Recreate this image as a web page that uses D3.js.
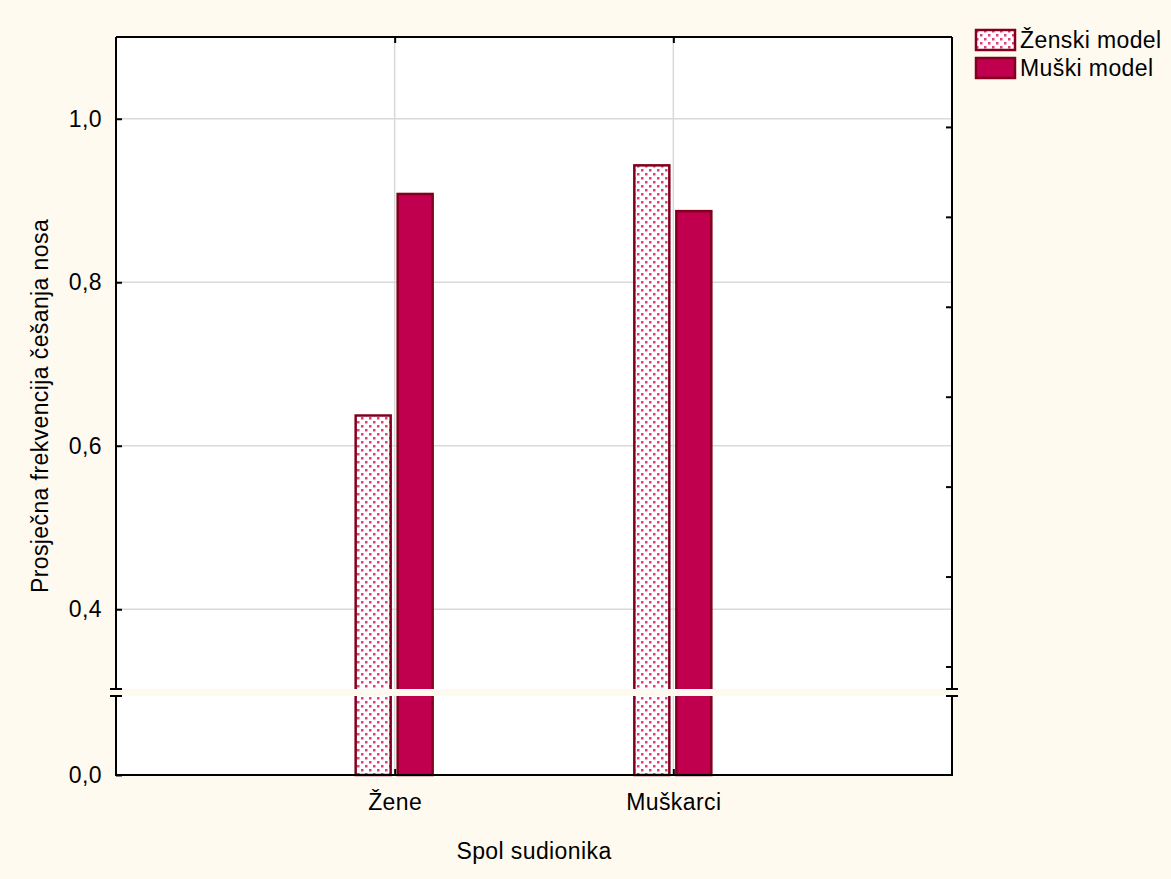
<!DOCTYPE html>
<html>
<head>
<meta charset="utf-8">
<script src="https://cdn.jsdelivr.net/npm/d3@7"></script>
<style>
  html, body { margin: 0; padding: 0; background: #fffaf0; }
  svg { display: block; font-family: "Liberation Sans", Arial, sans-serif; }
</style>
</head>
<body>
<svg id="chart" width="1171" height="879"></svg>
<script>
// Chart data
const categories = ['Žene', 'Muškarci'];
const seriesNames = ['Ženski model', 'Muški model'];
const zenskiModel = [0.637, 0.943];
const muskiModel = [0.908, 0.887];
const yTickValues = [0.0, 0.4, 0.6, 0.8, 1.0];
const rightTickValues = [0.33, 0.44, 0.55, 0.66, 0.77, 0.88, 0.99];

const svg = d3.select('#chart');
const W = 1171, H = 879;
const plot = { left: 116, right: 952, top: 37, bottom: 775 };
const breakTop = 689, breakBottom = 696;

const bg = '#fffaf0';
const barFill = '#c0004e';
const barStroke = '#82001e';
const dotColor = '#de3f7e';
const fontSize = 23;
const letterSp = 0.4;

svg.append('rect').attr('width', W).attr('height', H).attr('fill', bg);

// Pattern for female model bars
const defs = svg.append('defs');
const pat = defs.append('pattern')
  .attr('id', 'dots')
  .attr('patternUnits', 'userSpaceOnUse')
  .attr('width', 8).attr('height', 8);
pat.append('rect').attr('width', 8).attr('height', 8).attr('fill', '#fff');
pat.append('rect').attr('x', 1).attr('y', 1).attr('width', 2.5).attr('height', 2.5).attr('fill', dotColor);
pat.append('rect').attr('x', 5).attr('y', 5).attr('width', 2.5).attr('height', 2.5).attr('fill', dotColor);

// Scales (piecewise y with a break between 0 and 0.3)
const x = d3.scalePoint()
  .domain(categories)
  .range([plot.left, plot.right])
  .padding(1);

const y = d3.scaleLinear()
  .domain([0, 0.3, 1.1])
  .range([plot.bottom, 691, plot.top]);

// Plot background
svg.append('rect')
  .attr('x', plot.left).attr('y', plot.top)
  .attr('width', plot.right - plot.left).attr('height', plot.bottom - plot.top)
  .attr('fill', '#fff');

// Gridlines
const grid = svg.append('g').attr('stroke', '#d9d9d9').attr('stroke-width', 1.5);
grid.selectAll('line.h')
  .data([0.4, 0.6, 0.8, 1.0])
  .enter().append('line')
  .attr('x1', plot.left).attr('x2', plot.right)
  .attr('y1', d => y(d)).attr('y2', d => y(d));
grid.selectAll('line.v')
  .data(categories)
  .enter().append('line')
  .attr('x1', d => x(d)).attr('x2', d => x(d))
  .attr('y1', plot.top).attr('y2', plot.bottom);

// Bars
const barW = 35;
const bars = svg.append('g');
bars.selectAll('rect.z')
  .data(zenskiModel)
  .enter().append('rect')
  .attr('x', (d, i) => x(categories[i]) - 39)
  .attr('y', d => y(d))
  .attr('width', barW)
  .attr('height', d => plot.bottom - y(d))
  .attr('fill', 'url(#dots)')
  .attr('stroke', barStroke)
  .attr('stroke-width', 2.5);
bars.selectAll('rect.m')
  .data(muskiModel)
  .enter().append('rect')
  .attr('x', (d, i) => x(categories[i]) + 3)
  .attr('y', d => y(d))
  .attr('width', barW)
  .attr('height', d => plot.bottom - y(d))
  .attr('fill', barFill)
  .attr('stroke', barStroke)
  .attr('stroke-width', 2.5);

// Axis break band
svg.append('rect')
  .attr('x', plot.left - 2).attr('y', breakTop)
  .attr('width', plot.right - plot.left + 4).attr('height', breakBottom - breakTop)
  .attr('fill', bg);

// Frame (split by the break)
const frame = svg.append('g').attr('stroke', '#000').attr('stroke-width', 2).attr('fill', 'none');
frame.append('line').attr('x1', plot.left).attr('x2', plot.right).attr('y1', plot.top).attr('y2', plot.top);
frame.append('line').attr('x1', plot.left - 1).attr('x2', plot.right + 1).attr('y1', plot.bottom).attr('y2', plot.bottom);
[plot.left, plot.right].forEach(px => {
  frame.append('line').attr('x1', px).attr('x2', px).attr('y1', plot.top).attr('y2', breakTop);
  frame.append('line').attr('x1', px).attr('x2', px).attr('y1', breakBottom).attr('y2', plot.bottom);
  frame.append('line').attr('x1', px - 6).attr('x2', px + 6).attr('y1', breakTop).attr('y2', breakTop);
  frame.append('line').attr('x1', px - 6).attr('x2', px + 6).attr('y1', breakBottom).attr('y2', breakBottom);
});

// Left axis
const leftAxis = svg.append('g')
  .attr('transform', `translate(${plot.left},0)`)
  .call(d3.axisLeft(y).tickValues(yTickValues).tickSizeInner(-6).tickSizeOuter(0).tickPadding(14)
    .tickFormat(d => d3.format('.1f')(d).replace('.', ',')));
leftAxis.select('.domain').remove();
leftAxis.selectAll('.tick line').attr('stroke', '#000').attr('stroke-width', 2);
leftAxis.selectAll('.tick text')
  .attr('font-size', fontSize).attr('fill', '#000').attr('letter-spacing', letterSp)
  .attr('font-family', '"Liberation Sans", Arial, sans-serif');

// Right axis (minor ticks)
const rightAxis = svg.append('g')
  .attr('transform', `translate(${plot.right},0)`)
  .call(d3.axisRight(y).tickValues(rightTickValues).tickSizeInner(-6).tickSizeOuter(0).tickFormat(''));
rightAxis.select('.domain').remove();
rightAxis.selectAll('.tick line').attr('stroke', '#000').attr('stroke-width', 2);

// Bottom axis
const bottomAxis = svg.append('g')
  .attr('transform', `translate(0,${plot.bottom})`)
  .call(d3.axisBottom(x).tickSizeInner(-6).tickSizeOuter(0).tickPadding(19));
bottomAxis.select('.domain').remove();
bottomAxis.selectAll('.tick line').attr('stroke', '#000').attr('stroke-width', 2);
bottomAxis.selectAll('.tick text')
  .attr('font-size', fontSize).attr('fill', '#000').attr('letter-spacing', letterSp)
  .attr('font-family', '"Liberation Sans", Arial, sans-serif');

// Top axis
const topAxis = svg.append('g')
  .attr('transform', `translate(0,${plot.top})`)
  .call(d3.axisTop(x).tickSizeInner(-6).tickSizeOuter(0).tickFormat(''));
topAxis.select('.domain').remove();
topAxis.selectAll('.tick line').attr('stroke', '#000').attr('stroke-width', 2);

// Axis titles
svg.append('text')
  .attr('x', (plot.left + plot.right) / 2).attr('y', 859)
  .attr('text-anchor', 'middle').attr('font-size', fontSize).attr('letter-spacing', letterSp)
  .text('Spol sudionika');
svg.append('text')
  .attr('transform', `translate(48,${(plot.top + plot.bottom) / 2}) rotate(-90)`)
  .attr('text-anchor', 'middle').attr('font-size', fontSize).attr('letter-spacing', letterSp)
  .text('Prosječna frekvencija češanja nosa');

// Legend
const legend = svg.append('g').attr('transform', 'translate(975,29)');
const swatchFills = ['url(#dots)', barFill];
seriesNames.forEach((name, i) => {
  const g = legend.append('g').attr('transform', `translate(0,${i * 28})`);
  g.append('rect').attr('x', 1).attr('y', 1).attr('width', 39).attr('height', 20)
    .attr('fill', swatchFills[i]).attr('stroke', barStroke).attr('stroke-width', 2.5);
  g.append('text').attr('x', 45).attr('y', 19).attr('font-size', fontSize)
    .attr('letter-spacing', letterSp).text(name);
});
</script>
</body>
</html>
